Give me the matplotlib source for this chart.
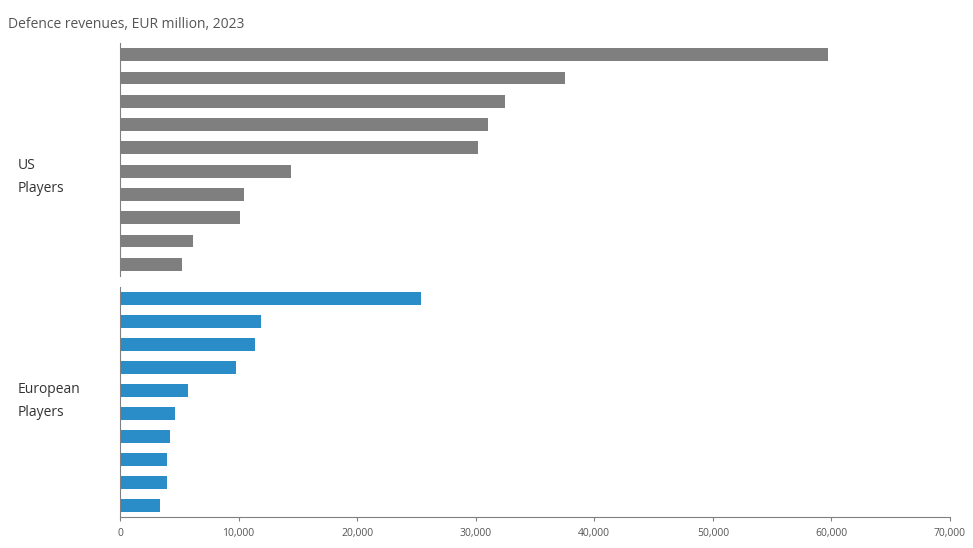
import matplotlib.pyplot as plt
from matplotlib.ticker import FuncFormatter

# defence revenues, EUR million, 2023 (top to bottom)
us_values = [59700, 37500, 32500, 31000, 30200, 14400, 10500, 10100, 6200, 5200]
eu_values = [25400, 11900, 11400, 9800, 5700, 4600, 4200, 4000, 4000, 3400]
x_ticks = [0, 10000, 20000, 30000, 40000, 50000, 60000, 70000]

grey = '#7f7f7f'
blue = '#2a8dc8'
text_col = '#555555'

plt.rcParams['font.family'] = ['Open Sans', 'DejaVu Sans']

fig = plt.figure(figsize=(9.73, 5.48), dpi=100)
ax_us = fig.add_axes([0.1233, 0.4964, 0.8531, 0.4252])
ax_eu = fig.add_axes([0.1233, 0.0566, 0.8531, 0.4197])

for ax, vals, col in [(ax_us, us_values, grey), (ax_eu, eu_values, blue)]:
    pos = list(range(len(vals)))
    ax.barh(pos, vals, height=0.55, color=col)
    ax.set_ylim(len(vals) - 0.5, -0.5)
    ax.set_xlim(0, 70000)
    ax.set_yticks([])
    for s in ['top', 'right']:
        ax.spines[s].set_visible(False)
    ax.spines['left'].set_color('#808080')
    ax.spines['bottom'].set_color('#808080')

ax_us.spines['bottom'].set_visible(False)
ax_us.set_xticks([])

ax_eu.set_xticks(x_ticks)
ax_eu.xaxis.set_major_formatter(FuncFormatter(lambda v, p: f'{int(v):,}'))
ax_eu.tick_params(axis='x', colors='#808080', labelcolor=text_col, labelsize=7.5, length=3, pad=5)

fig.text(0.008, 0.955, 'Defence revenues, EUR million, 2023', fontsize=10, color=text_col, va='center')
fig.text(0.018, 0.677, 'US\nPlayers', fontsize=10, color='#333333', va='center', linespacing=1.7)
fig.text(0.018, 0.268, 'European\nPlayers', fontsize=10, color='#333333', va='center', linespacing=1.7)

fig.savefig('out.png', dpi=100)
